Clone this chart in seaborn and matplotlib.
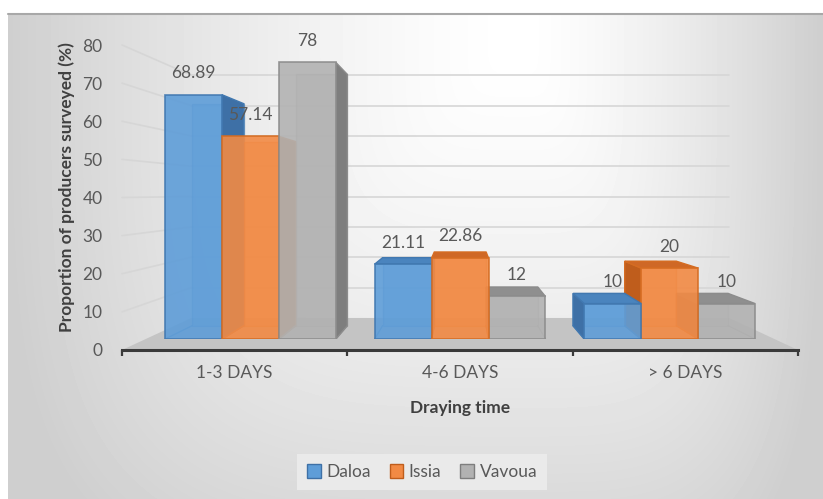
import numpy as np
import pandas as pd
import matplotlib
matplotlib.use("Agg")
import matplotlib.pyplot as plt
import matplotlib.colors as mcolors
import seaborn as sns
from matplotlib.patches import Polygon, Patch

# ---- data -----------------------------------------------------------------
categories = ["1-3 DAYS", "4-6 DAYS", "> 6 DAYS"]
sites = ["Daloa", "Issia", "Vavoua"]
daloa = [68.89, 21.11, 10]
issia = [57.14, 22.86, 20]
vavoua = [78, 12, 10]
y_ticks = [0, 10, 20, 30, 40, 50, 60, 70, 80]

# ---- styling --------------------------------------------------------------
face_colors = {"Daloa": "#5E9DD8", "Issia": "#F28A44", "Vavoua": "#B2B2B2"}
side_colors = {"Daloa": "#3E70A6", "Issia": "#BF5D1C", "Vavoua": "#7E7E7E"}
top_colors = {"Daloa": "#4A84BE", "Issia": "#CF6826", "Vavoua": "#8F8F8F"}
edge_colors = {"Daloa": "#4178B0", "Issia": "#D56C22", "Vavoua": "#8C8C8C"}
TEXT = "#595959"
TITLE = "#404040"

sns.set_theme(style="white")
plt.rcParams["font.family"] = ["Lato", "DejaVu Sans"]

records = []
for site, vals in zip(sites, [daloa, issia, vavoua]):
    for cat, v in zip(categories, vals):
        records.append({"time": cat, "site": site, "value": v})
df = pd.DataFrame(records)

W, H = 823, 499
fig = plt.figure(figsize=(W / 100, H / 100), dpi=100)


def fx(px):
    return px / W


def fy(py):
    return 1 - py / H


def box(l, t, r, b):
    return [fx(l), fy(b), fx(r) - fx(l), fy(t) - fy(b)]


# ---- chart-area background (soft grey vignette) ----------------------------
bg = fig.add_axes([0, 0, 1, 1], zorder=-5)
bg.set_xlim(0, W)
bg.set_ylim(H, 0)
bg.axis("off")
X, Y = np.meshgrid(np.arange(8, W) + 0.5, np.arange(13, H) + 0.5)
cx = 520
dx = np.where(X < cx, (cx - X) / 512, (X - cx) / 300)
dy = np.clip(Y - 40, 0, None) / 560
d = np.clip((dx ** 4 + dy ** 4) ** 0.25, 0, 1)
shade = 1 - 0.19 * d ** 1.4
bg.imshow(shade, cmap="gray", vmin=0, vmax=1, extent=[8, W, H, 13],
          aspect="auto", interpolation="bilinear")
bg.plot([8, W], [13.5, 13.5], color="#a8a8a8", lw=1.5)

# ---- front plane axes (ticks, labels, floor, walls) ------------------------
FL, FR, FT, FB = 122, 798, 45, 350
VPX, VPY = 461, 193
ax = fig.add_axes(box(FL, FT, FR, FB))
ax.set_xlim(-0.5, 2.5)
ax.set_ylim(0, 80)
ax.patch.set_alpha(0)

XV = -0.5 + (VPX - FL) / (FR - FL) * 3
YV = (FB - VPY) / (FB - FT) * 80
T_WALL = 0.204


def proj(x, y, t):
    return (x + (XV - x) * t, y + (YV - y) * t)


floor = Polygon([(-0.5, 0), (2.5, 0), proj(2.5, 0, T_WALL), proj(-0.5, 0, T_WALL)],
                closed=True, facecolor="#c4c4c4", edgecolor="none", zorder=1)
ax.add_patch(floor)
for v in y_ticks:
    if v > 0:
        bl = proj(-0.5, v, T_WALL)
        br = proj(2.5, v, T_WALL)
        ax.plot([bl[0], br[0]], [bl[1], br[1]], color="#d6d6d6", lw=1.2, zorder=1.1)
        ax.plot([-0.5, bl[0]], [v, bl[1]], color="#d6d6d6", lw=1.2, zorder=1.1,
                clip_on=False)

for s in ["top", "right", "left"]:
    ax.spines[s].set_visible(False)
ax.spines["bottom"].set_color("#3a3a3a")
ax.spines["bottom"].set_linewidth(2.2)
ax.spines["bottom"].set_zorder(5)

ax.set_xticks([-0.5, 0.5, 1.5, 2.5])
ax.set_xticklabels([])
ax.set_xticks([0, 1, 2], minor=True)
ax.set_xticklabels(categories, minor=True)
ax.tick_params(axis="x", which="major", length=4, width=1.6, color="#3a3a3a",
               direction="out", bottom=True)
ax.tick_params(axis="x", which="minor", length=0, pad=11, labelsize=12.5,
               labelcolor=TEXT, bottom=True)
ax.set_yticks(y_ticks)
ax.tick_params(axis="y", length=0, pad=14, labelsize=12.5, labelcolor=TEXT, left=True)
ax.grid(False)

ax.set_ylabel("Proportion of producers surveyed (%)", fontsize=12.5,
              fontweight="bold", color=TITLE)
ax.yaxis.set_label_coords(-0.07, 0.535)
ax.set_xlabel("Draying time", fontsize=12.5, fontweight="bold", color=TITLE)
ax.xaxis.set_label_coords(0.5, -0.163)

# ---- bars: front faces on the plane slightly behind the axis ---------------
T0, T1 = 0.07, 0.155


def plane_box(t):
    l = FL + (VPX - FL) * t
    r = FR + (VPX - FR) * t
    top = FT + (VPY - FT) * t
    b = FB + (VPY - FB) * t
    return box(l, top, r, b)


bax = fig.add_axes(plane_box(T0))
sns.barplot(data=df, x="time", y="value", hue="site", order=categories,
            hue_order=sites, palette=face_colors, width=0.815, errorbar=None,
            saturation=1, legend=False, ax=bax)
bax.set_xlim(-0.5, 2.5)
bax.set_ylim(0, 80)
bax.axis("off")

S = 1 - (1 - T1) / (1 - T0)


def back(x, y):
    return (x + (XV - x) * S, y + (YV - y) * S)


hex_to_site = {mcolors.to_hex(c): s for s, c in face_colors.items()}
bars = [p for p in bax.patches if p.get_height() > 0]
bars.sort(key=lambda p: -abs(p.get_x() + p.get_width() / 2 - XV))

for i, p in enumerate(bars):
    site = hex_to_site[mcolors.to_hex(p.get_facecolor())]
    x0 = p.get_x()
    x1 = x0 + p.get_width()
    h = p.get_height()
    xc = (x0 + x1) / 2
    z = 2 + i * 0.1
    ec = edge_colors[site]

    # hidden back edges, seen through the translucent front
    bpts = [back(x0, 0), back(x1, 0), back(x1, h), back(x0, h)]
    bax.add_patch(Polygon(bpts, closed=True, facecolor=face_colors[site],
                          edgecolor=ec, lw=1, alpha=0.45, zorder=z + 0.01))
    for cxp, cyp in [(x0, 0), (x1, 0)]:
        bx, by = back(cxp, cyp)
        bax.plot([cxp, bx], [cyp, by], color=ec, lw=1, alpha=0.7, zorder=z + 0.012)

    # side face turned towards the centre
    if xc < XV - 0.05:
        side = [(x1, 0), (x1, h), back(x1, h), back(x1, 0)]
    elif xc > XV + 0.05:
        side = [(x0, 0), (x0, h), back(x0, h), back(x0, 0)]
    else:
        side = None
    if side is not None:
        bax.add_patch(Polygon(side, closed=True, facecolor=side_colors[site],
                              edgecolor=ec, lw=1, zorder=z + 0.02))

    # top face visible for bars below eye level
    if h < YV:
        top = [(x0, h), (x1, h), back(x1, h), back(x0, h)]
        bax.add_patch(Polygon(top, closed=True, facecolor=top_colors[site],
                              edgecolor=ec, lw=1, zorder=z + 0.03))

    p.set_zorder(z + 0.05)
    p.set_alpha(0.9)
    p.set_edgecolor(ec)
    p.set_linewidth(1.2)

    bax.annotate(f"{h:g}", (xc, h), xytext=(0, 15.5), textcoords="offset points",
                 ha="center", va="center", fontsize=12.5, color=TEXT, zorder=20)

# ---- legend ---------------------------------------------------------------
handles = [Patch(facecolor=face_colors[s], edgecolor=side_colors[s], label=s)
           for s in sites]
leg = fig.legend(handles=handles, loc="center", bbox_to_anchor=(fx(422), fy(472)),
                 bbox_transform=fig.transFigure, ncol=3, frameon=True,
                 fontsize=12.5, handlelength=0.8, handleheight=0.8,
                 handletextpad=0.3, columnspacing=1.1, borderpad=0.55,
                 fancybox=False)
leg.get_frame().set_facecolor("#ececec")
leg.get_frame().set_edgecolor("none")
leg.get_frame().set_alpha(0.9)
for t in leg.get_texts():
    t.set_color(TEXT)

fig.savefig("out.png", dpi=100)
